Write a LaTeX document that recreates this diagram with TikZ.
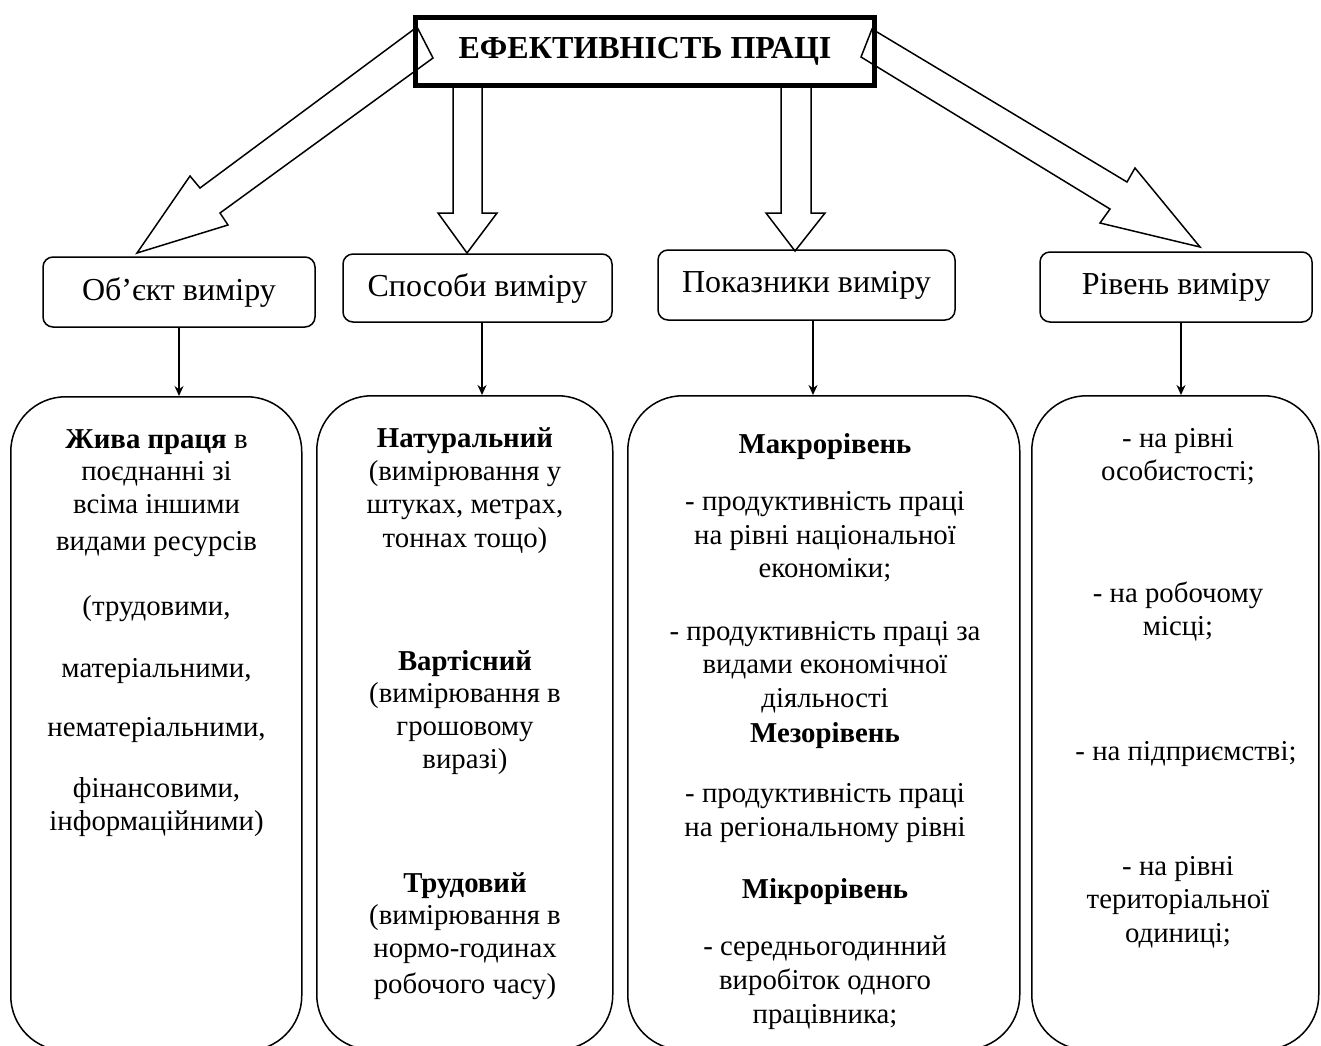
\documentclass[tikz,border=0pt]{standalone}
\usepackage{fontspec}
\setmainfont{Liberation Serif}
\usetikzlibrary{arrows.meta}
\begin{document}
\begin{tikzpicture}[x=0.5pt,y=-0.5pt,
  lw/.style={line width=0.75pt},
  titlebox/.style={draw, line width=2.5pt, fill=white, minimum width=229.5pt, minimum height=34pt, inner sep=0pt, font=\fontsize{16}{19}\selectfont\bfseries},
  midbox/.style={draw, lw, rounded corners=5pt, inner sep=0pt, font=\fontsize{16}{19}\selectfont},
  bigbox/.style={draw, lw, rounded corners=27.5pt, inner sep=0pt, anchor=north west, minimum height=327pt},
  txt/.style={anchor=base, inner sep=0pt, font=\fontsize{14.4}{17}\selectfont},
  blockarrow/.style={lw, line join=miter},
  thinarrow/.style={lw, -{Stealth[length=5pt,width=4.5pt]}}
]
\useasboundingbox (0,0) rectangle (1321,1045);
\clip (0,0) rectangle (1321,1045);
\fill[white] (0,0) rectangle (1321,1045);

% title
\node[titlebox] (title) at (645,51.5) {ЕФЕКТИВНІСТЬ ПРАЦІ};

% middle boxes
\node[midbox, minimum width=136pt, minimum height=35pt] (o1) at (179,292) {Об’єкт виміру};
\node[midbox, minimum width=134.5pt, minimum height=34pt] (o2) at (477.5,288) {Способи виміру};
\node[midbox, minimum width=148.5pt, minimum height=35pt] (o3) at (806.5,285) {Показники виміру};
\node[midbox, minimum width=136pt, minimum height=35pt] (o4) at (1176,287) {Рівень виміру};

% big boxes
\node[bigbox, minimum width=145.5pt] (b1) at (10,396) {};
\node[bigbox, minimum width=148pt] (b2) at (316,395) {};
\node[bigbox, minimum width=196pt] (b3) at (627,395) {};
\node[bigbox, minimum width=143.5pt] (b4) at (1031,395) {};

% thin arrows
\draw[thinarrow] (o1.south) -- (o1.south |- b1.north);
\draw[thinarrow] ([xshift=2.25pt]o2.south) -- ([xshift=2.25pt]o2.south |- b2.north);
\draw[thinarrow] ([xshift=3.25pt]o3.south) -- ([xshift=3.25pt]o3.south |- b3.north);
\draw[thinarrow] ([xshift=2.5pt]o4.south) -- ([xshift=2.5pt]o4.south |- b4.north);

% block arrows
\draw[blockarrow] (417,27) -- (200,188) -- (190,176) -- (137,253) -- (228,225) -- (220,213) -- (433,58) -- cycle;
\draw[blockarrow] (453,87) -- (453,213) -- (438,213) -- (467,253) -- (497,213) -- (482,213) -- (482,87);
\draw[blockarrow] (781,87) -- (781,213) -- (766,213) -- (795,251) -- (825,213) -- (811,213) -- (811,87);
\draw[blockarrow] (872,29) -- (1127,182) -- (1135,168) -- (1200,247) -- (1100,223) -- (1110,209) -- (861,57) -- cycle;

% box 1 text
\node[txt] (t11) at (156.5,448) {\textbf{Жива праця} в};
\node[txt] (t12) at (156.5,480) {поєднанні зі};
\node[txt] (t13) at (156.5,513) {всіма іншими};
\node[txt] (t14) at (156.5,550) {видами ресурсів};
\node[txt] (t15) at (156.5,615) {(трудовими,};
\node[txt] (t16) at (156.5,677) {матеріальними,};
\node[txt] (t17) at (156.5,736) {нематеріальними,};
\node[txt] (t18) at (156.5,797) {фінансовими,};
\node[txt] (t19) at (156.5,830) {інформаційними)};

% box 2 text
\node[txt] (t21) at (465,447) {\textbf{Натуральний}};
\node[txt] (t22) at (465,480) {(вимірювання у};
\node[txt] (t23) at (465,513) {штуках, метрах,};
\node[txt] (t24) at (465,547) {тоннах тощо)};
\node[txt] (t25) at (465,670) {\textbf{Вартісний}};
\node[txt] (t26) at (465,702) {(вимірювання в};
\node[txt] (t27) at (465,735) {грошовому};
\node[txt] (t28) at (465,768) {виразі)};
\node[txt] (t29) at (465,892) {\textbf{Трудовий}};
\node[txt] (t2a) at (465,924) {(вимірювання в};
\node[txt] (t2b) at (465,957) {нормо-годинах};
\node[txt] (t2c) at (465,993) {робочого часу)};

% box 3 text
\node[txt] (t31) at (825,453) {\textbf{Макрорівень}};
\node[txt] (t32) at (825,510) {- продуктивність праці};
\node[txt] (t33) at (825,544) {на рівні національної};
\node[txt] (t34) at (825,577) {економіки;};
\node[txt] (t35) at (825,640) {- продуктивність праці за};
\node[txt] (t36) at (825,673) {видами економічної};
\node[txt] (t37) at (825,707) {діяльності};
\node[txt] (t38) at (825,742) {\textbf{Мезорівень}};
\node[txt] (t39) at (825,802) {- продуктивність праці};
\node[txt] (t3a) at (825,836) {на регіональному рівні};
\node[txt] (t3b) at (825,898) {\textbf{Мікрорівень}};
\node[txt] (t3c) at (825,955) {- середньогодинний};
\node[txt] (t3d) at (825,989) {виробіток одного};
\node[txt] (t3e) at (825,1023) {працівника;};

% box 4 text
\node[txt] (t41) at (1178,447) {- на рівні};
\node[txt] (t42) at (1178,480) {особистості;};
\node[txt] (t43) at (1178,602) {- на робочому};
\node[txt] (t44) at (1178,635) {місці;};
\node[txt] (t45) at (1186,760) {- на підприємстві;};
\node[txt] (t46) at (1178,875) {- на рівні};
\node[txt] (t47) at (1178,908) {територіальної};
\node[txt] (t48) at (1178,942) {одиниці;};
\end{tikzpicture}
\end{document}
